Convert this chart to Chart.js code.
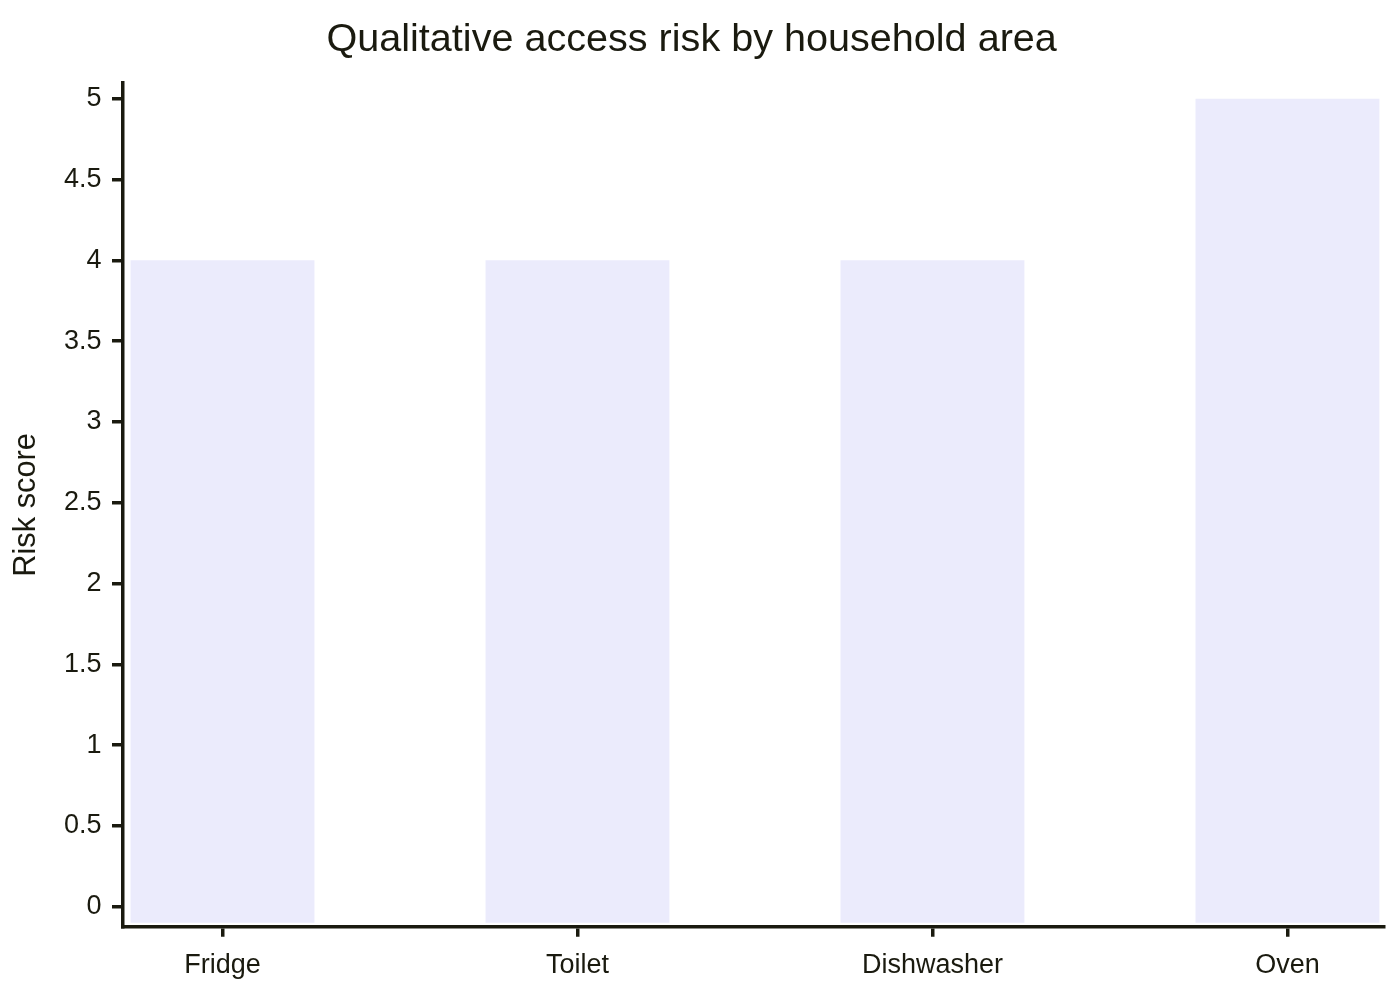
<!DOCTYPE html>
<html>
<head>
<meta charset="utf-8">
<script src="https://cdn.jsdelivr.net/npm/chart.js@4.4.1/dist/chart.umd.min.js"></script>
<style>
  html, body { margin: 0; padding: 0; background: #fff; }
  #wrap { width: 1400px; height: 1000px; }
</style>
</head>
<body>
<div id="wrap"><canvas id="myChart"></canvas></div>
<script>
// chart data
const categories = ['Fridge', 'Toilet', 'Dishwasher', 'Oven']
const riskScores = [4, 4, 4, 5]
const yTicks = [0, 0.5, 1, 1.5, 2, 2.5, 3, 3.5, 4, 4.5, 5]

const ink = '#1a1a0f'
const yMin = -0.124
const yMax = 5.097
const barBase = -0.099

let ctx = document.getElementById('myChart').getContext('2d')

const data = {
    datasets: [{
        label: 'Risk score',
        data: categories.map((c, i) => ({ x: i, y: riskScores[i] })),
        backgroundColor: '#ebebfc',
        borderWidth: 0,
        base: barBase,
        categoryPercentage: 1,
        barPercentage: 0.518,
    }]
}

const config = {
    type: 'bar',
    data,
    options: {
        responsive: true,
        maintainAspectRatio: false,
        animation: false,
        layout: { padding: { left: 0, right: 16.7, top: 0, bottom: 0 } },
        plugins: {
            legend: { display: false },
            tooltip: { enabled: false },
            title: {
                display: true,
                text: 'Qualitative access risk by household area',
                color: ink,
                font: { family: 'Liberation Sans, Arial, sans-serif', size: 39.6, weight: 'normal' },
                padding: { top: 16, bottom: 19.5 },
            },
        },
        scales: {
            x: {
                type: 'linear',
                offset: false,
                min: -0.2817,
                max: 3.27,
                afterBuildTicks: s => { s.ticks = categories.map((c, i) => ({ value: i })) },
                afterFit: s => { s.height = 73.25 },
                ticks: {
                    color: ink,
                    font: { family: 'Liberation Sans, Arial, sans-serif', size: 27 },
                    padding: 13,
                    maxRotation: 0,
                    autoSkip: false,
                    callback: v => categories[v],
                },
                grid: { offset: false, drawOnChartArea: false, drawTicks: true, tickLength: 10, color: ink, lineWidth: 3.5 },
                border: { display: true, color: ink, width: 3.5 },
            },
            y: {
                min: yMin,
                max: yMax,
                afterBuildTicks: s => { s.ticks = yTicks.map(v => ({ value: v })) },
                afterFit: s => { s.width = 122.5 },
                ticks: {
                    color: ink,
                    font: { family: 'Liberation Sans, Arial, sans-serif', size: 27 },
                    padding: 10.5,
                    callback: v => String(v),
                },
                grid: { drawOnChartArea: false, drawTicks: true, tickLength: 10.5, color: ink, lineWidth: 3.5 },
                border: { display: true, color: ink, width: 3.5 },
                title: {
                    display: true,
                    text: 'Risk score',
                    color: ink,
                    font: { family: 'Liberation Sans, Arial, sans-serif', size: 30.8 },
                    padding: { top: 8, bottom: 0 },
                },
            },
        },
    },
}

const myChart = new Chart(ctx, config)
</script>
</body>
</html>
